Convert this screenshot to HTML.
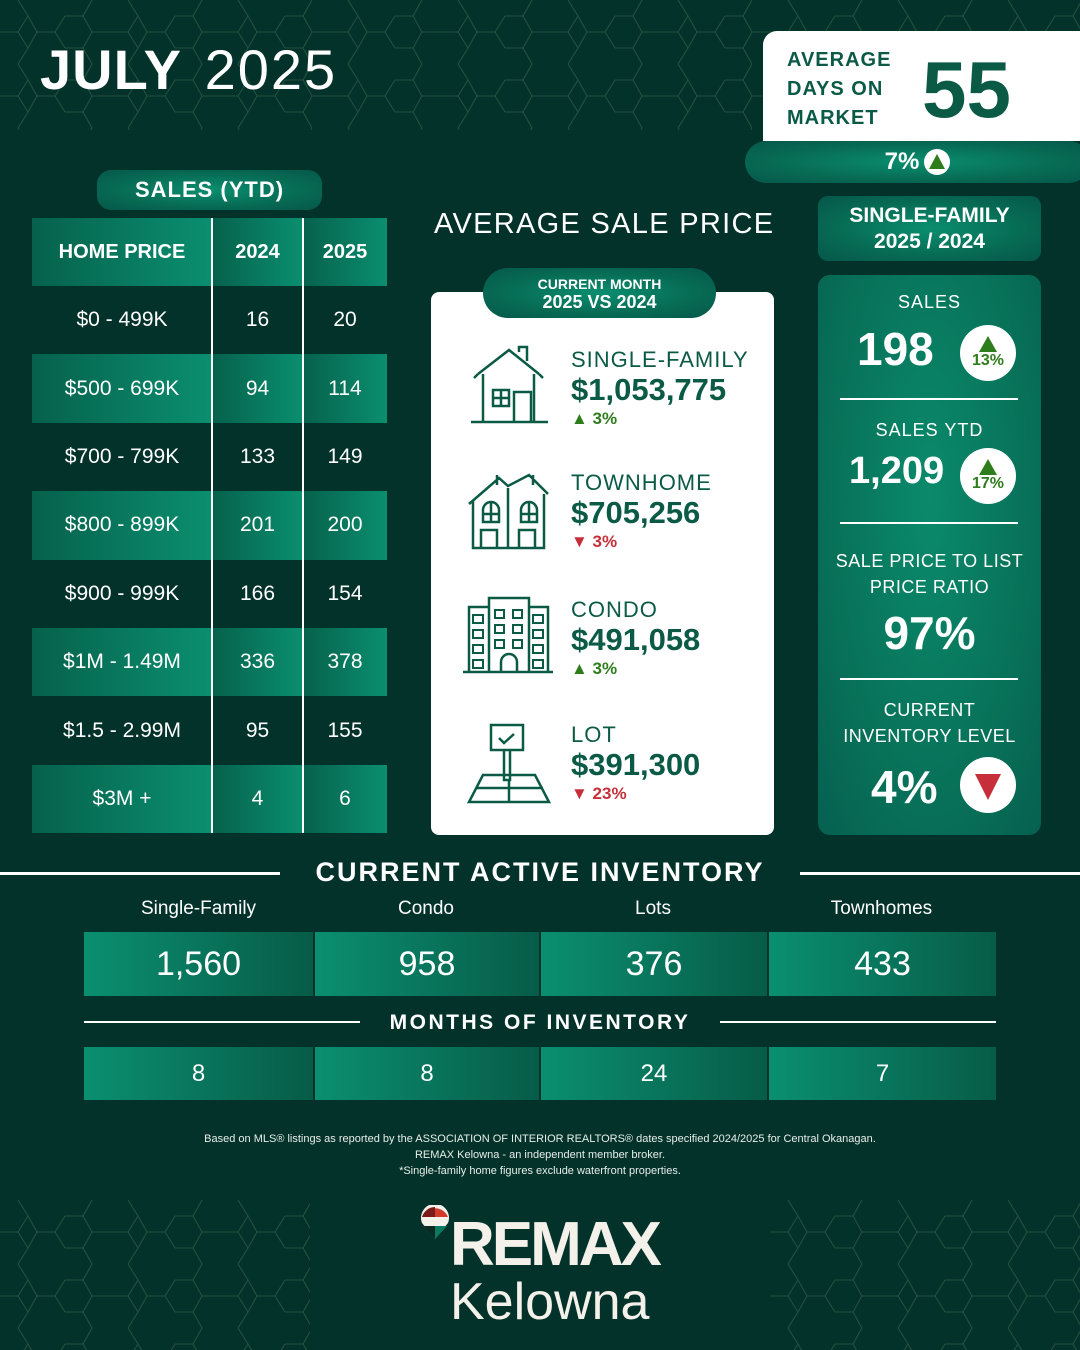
<!DOCTYPE html>
<html><head><meta charset="utf-8">
<style>
*{margin:0;padding:0;box-sizing:border-box}
body{width:1080px;height:1350px;background:#03322a;position:relative;overflow:hidden;font-family:"Liberation Sans",Arial,sans-serif;color:#fff}
.a{position:absolute}
.c{position:absolute;display:flex;align-items:center;justify-content:center;text-align:center}
.b{font-weight:bold}
.tg{background:linear-gradient(90deg,#06614c,#0a8f6f)}
.tg2{background:linear-gradient(90deg,#0a8f70,#075c48)}
.pill{background:radial-gradient(ellipse at center,#0a8e6f 0%,#076a53 60%,#06574a 100%)}
.dk{color:#0b5a46}
.up{color:#2e7d1c}
.dn{color:#c62f3a}
</style></head><body>
<svg class="a" style="left:0;top:0" width="1080" height="130">
<defs><pattern id="hx" width="110" height="64" patternUnits="userSpaceOnUse">
<path d="M0 32 L18 32 L28 16 M18 32 L28 48 M28 16 L18 0 M28 48 L18 64 M37 32 L55 32 L65 16 M55 32 L65 48 M37 32 L28 16 M37 32 L28 48 M65 16 L83 16 M65 48 L83 48 M83 16 L92 0 M83 16 L92 32 M83 48 L92 64 M83 48 L92 32 M92 32 L110 32" stroke="#24503f" stroke-width="1.1" fill="none"/>
</pattern></defs>
<rect width="1080" height="130" fill="url(#hx)"/>
</svg>
<svg class="a" style="left:0;top:1200" width="310" height="150"><rect width="310" height="150" fill="url(#hx)"/></svg>
<svg class="a" style="left:770;top:1200" width="310" height="150"><rect width="310" height="150" fill="url(#hx)"/></svg>

<div class="a" style="left:40px;top:40px;font-size:56px;line-height:60px;letter-spacing:1px"><b>JULY</b>&nbsp;<span style="font-weight:normal;letter-spacing:2px;margin-left:6px">2025</span></div>

<div class="a" style="left:763px;top:31px;width:317px;height:110px;background:#fff;border-radius:14px 0 0 0"></div>
<div class="a b dk" style="left:787px;top:46px;font-size:20px;line-height:29px;letter-spacing:1px;color:#0b5a46">AVERAGE<br>DAYS ON<br>MARKET</div>
<div class="a b" style="left:922px;top:50px;font-size:80px;line-height:80px;color:#0b5a46">55</div>
<div class="c pill b" style="left:745px;top:141px;width:345px;height:42px;border-radius:21px;font-size:24px">7%<span style="display:inline-block;width:26px;height:26px;border-radius:50%;background:#fff;margin-left:5px;position:relative"><span class="a" style="left:5px;top:5px;border-left:8px solid transparent;border-right:8px solid transparent;border-bottom:15px solid #2e7d1c"></span></span></div>

<div class="c pill b" style="left:97px;top:170px;width:225px;height:40px;border-radius:14px;font-size:22px;letter-spacing:1px">SALES (YTD)</div>
<div class="c tg b" style="left:32px;top:218px;width:180px;height:68px;font-size:20px">HOME PRICE</div>
<div class="c tg b" style="left:212px;top:218px;width:91px;height:68px;font-size:20px">2024</div>
<div class="c tg b" style="left:303px;top:218px;width:84px;height:68px;font-size:20px">2025</div>
<div id="rows"></div>
<div class="a" style="left:211px;top:218px;width:2px;height:615px;background:#fff"></div>
<div class="a" style="left:302px;top:218px;width:2px;height:615px;background:#fff"></div>

<div class="a" style="left:434px;top:208px;font-size:29px;letter-spacing:1.3px">AVERAGE SALE PRICE</div>
<div class="a" style="left:431px;top:292px;width:343px;height:543px;background:#fff;border-radius:8px"></div>
<div class="c pill b" style="left:483px;top:268px;width:233px;height:50px;border-radius:25px;font-size:15px;line-height:18px;flex-direction:column"><span style="font-size:14px">CURRENT MONTH</span><span style="font-size:18px">2025 VS 2024</span></div>

<svg class="a" style="left:431px;top:330px" width="140" height="480" fill="none" stroke="#0b5a46" stroke-width="2.5">
<path d="M47 44 L78 20 L108 44 M52 44 V92 M103 44 V92 M40 92 H117 M62 60 h16 v16 h-16 z M70 60 v16 M62 68 h16 M83 62 h17 v30 h-17 z M88 22 v-5 h8 v14"/>
<path d="M47 44 L43 48 M108 44 L112 48"/>
<path d="M38 174 L68 148 L77 156 L98 145 L117 164 M42 170 V218 H113 V164 M77 158 V218 M50 218 V200 h16 V218 M88 218 V200 h16 V218 M52 192 v-12 a8 8 0 0 1 16 0 v12 z M90 192 v-12 a8 8 0 0 1 16 0 v12 z M60 172 v20 M98 172 v20 M52 184 h16 M90 184 h16 M66 145 v10 M102 145 v10"/>
<path d="M32 342 H122 M38 342 V277 H58 M58 342 V268 H98 V342 M98 277 H117 V342 M70 342 v-10 a8 8 0 0 1 16 0 v10"/>
<path d="M42 285 h10 v8 h-10 z M42 300 h10 v8 h-10 z M42 315 h10 v8 h-10 z M42 330 h10 v8 h-10 z M102 285 h10 v8 h-10 z M102 300 h10 v8 h-10 z M102 315 h10 v8 h-10 z M102 330 h10 v8 h-10 z M64 280 h9 v8 h-9 z M82 280 h9 v8 h-9 z M64 295 h9 v8 h-9 z M82 295 h9 v8 h-9 z M64 310 h9 v8 h-9 z M82 310 h9 v8 h-9 z" stroke-width="2"/>
<path d="M60 395 h32 v25 h-32 z M68 408 l5 5 l10 -9 M73 420 v30 h6 v-30 M52 445 L38 472 H118 L104 445 Z M45 458 H112 M78 450 V472"/>
</svg>

<div class="a dk" style="left:571px;top:347px;font-size:22px;letter-spacing:1px">SINGLE-FAMILY</div>
<div class="a b dk" style="left:571px;top:372px;font-size:31px">$1,053,775</div>
<div class="a b up" style="left:571px;top:409px;font-size:17px">▲ 3%</div>
<div class="a dk" style="left:571px;top:470px;font-size:22px;letter-spacing:1px">TOWNHOME</div>
<div class="a b dk" style="left:571px;top:495px;font-size:31px">$705,256</div>
<div class="a b dn" style="left:571px;top:532px;font-size:17px">▼ 3%</div>
<div class="a dk" style="left:571px;top:597px;font-size:22px;letter-spacing:1px">CONDO</div>
<div class="a b dk" style="left:571px;top:622px;font-size:31px">$491,058</div>
<div class="a b up" style="left:571px;top:659px;font-size:17px">▲ 3%</div>
<div class="a dk" style="left:571px;top:722px;font-size:22px;letter-spacing:1px">LOT</div>
<div class="a b dk" style="left:571px;top:747px;font-size:31px">$391,300</div>
<div class="a b dn" style="left:571px;top:784px;font-size:17px">▼ 23%</div>

<div class="c pill b" style="left:818px;top:196px;width:223px;height:65px;border-radius:10px;font-size:21px;line-height:26px;flex-direction:column"><span>SINGLE-FAMILY</span><span>2025 / 2024</span></div>
<div class="a" style="left:818px;top:275px;width:223px;height:560px;border-radius:12px;background:radial-gradient(ellipse at 50% 40%,#0a8a6b 0%,#087259 60%,#066050 100%)"></div>
<div class="c" style="left:818px;top:290px;width:223px;height:24px;font-size:18px;letter-spacing:1px">SALES</div>
<div class="a b" style="left:857px;top:322px;font-size:46px">198</div>
<div class="c" style="left:960px;top:325px;width:56px;height:56px;border-radius:50%;background:#fff;flex-direction:column"><span style="border-left:9px solid transparent;border-right:9px solid transparent;border-bottom:16px solid #2e7d1c"></span><span class="b up" style="font-size:16px">13%</span></div>
<div class="a" style="left:840px;top:398px;width:178px;height:2px;background:#fff"></div>
<div class="c" style="left:818px;top:418px;width:223px;height:24px;font-size:18px;letter-spacing:1px">SALES YTD</div>
<div class="a b" style="left:849px;top:450px;font-size:38px">1,209</div>
<div class="c" style="left:960px;top:448px;width:56px;height:56px;border-radius:50%;background:#fff;flex-direction:column"><span style="border-left:9px solid transparent;border-right:9px solid transparent;border-bottom:16px solid #2e7d1c"></span><span class="b up" style="font-size:16px">17%</span></div>
<div class="a" style="left:840px;top:522px;width:178px;height:2px;background:#fff"></div>
<div class="c" style="left:818px;top:548px;width:223px;height:52px;font-size:18px;line-height:26px;letter-spacing:.5px">SALE PRICE TO LIST<br>PRICE RATIO</div>
<div class="c b" style="left:818px;top:605px;width:223px;height:56px;font-size:46px">97%</div>
<div class="a" style="left:840px;top:678px;width:178px;height:2px;background:#fff"></div>
<div class="c" style="left:818px;top:697px;width:223px;height:52px;font-size:18px;line-height:26px;letter-spacing:.5px">CURRENT<br>INVENTORY LEVEL</div>
<div class="a b" style="left:871px;top:760px;font-size:46px">4%</div>
<div class="c" style="left:960px;top:757px;width:56px;height:56px;border-radius:50%;background:#fff"><span style="border-left:13px solid transparent;border-right:13px solid transparent;border-top:26px solid #c62f3a;margin-top:4px"></span></div>

<div class="a" style="left:0;top:872px;width:280px;height:3px;background:#fff"></div>
<div class="a" style="left:800px;top:872px;width:280px;height:3px;background:#fff"></div>
<div class="c b" style="left:280px;top:855px;width:520px;height:34px;font-size:27px;letter-spacing:2px">CURRENT ACTIVE INVENTORY</div>
<div class="c" style="left:84px;top:897px;width:229px;height:24px;font-size:19px">Single-Family</div>
<div class="c" style="left:313px;top:897px;width:226px;height:24px;font-size:19px">Condo</div>
<div class="c" style="left:539px;top:897px;width:228px;height:24px;font-size:19px">Lots</div>
<div class="c" style="left:767px;top:897px;width:229px;height:24px;font-size:19px">Townhomes</div>
<div class="c tg2" style="left:84px;top:932px;width:229px;height:64px;font-size:34px">1,560</div>
<div class="c tg2" style="left:315px;top:932px;width:224px;height:64px;font-size:34px">958</div>
<div class="c tg2" style="left:541px;top:932px;width:226px;height:64px;font-size:34px">376</div>
<div class="c tg2" style="left:769px;top:932px;width:227px;height:64px;font-size:34px">433</div>
<div class="a" style="left:84px;top:1021px;width:276px;height:2px;background:#fff"></div>
<div class="a" style="left:720px;top:1021px;width:276px;height:2px;background:#fff"></div>
<div class="c b" style="left:360px;top:1010px;width:360px;height:26px;font-size:21px;letter-spacing:2.5px">MONTHS OF INVENTORY</div>
<div class="c tg2" style="left:84px;top:1047px;width:229px;height:53px;font-size:24px">8</div>
<div class="c tg2" style="left:315px;top:1047px;width:224px;height:53px;font-size:24px">8</div>
<div class="c tg2" style="left:541px;top:1047px;width:226px;height:53px;font-size:24px">24</div>
<div class="c tg2" style="left:769px;top:1047px;width:227px;height:53px;font-size:24px">7</div>

<div class="a" style="left:0;top:1131px;width:1080px;text-align:center;font-size:11px;line-height:16px;color:#e8eee9">Based on MLS® listings as reported by the ASSOCIATION OF INTERIOR REALTORS® dates specified 2024/2025 for Central Okanagan.<br>REMAX Kelowna - an independent member broker.<br>*Single-family home figures exclude waterfront properties.</div>

<svg class="a" style="left:419px;top:1205px" width="32" height="36"><path d="M16 34 L3 18 A14 14 0 1 1 29 18 Z" fill="#f4f1ea"/><path d="M3 12 A14 14 0 0 1 29 12 Z" fill="#d33a2c"/><path d="M3 12 A14 14 0 0 1 16 2 V12 Z" fill="#7a1a1a"/><path d="M4 21 H28 L16 34 Z" fill="#0a7a60"/><path d="M4 21 H16 V34 Z" fill="#0b2a22"/></svg>
<div class="a b" style="left:450px;top:1212px;font-size:62px;line-height:66px;color:#f4f1ea;letter-spacing:-3px">REMAX</div>
<div class="a" style="left:450px;top:1274px;font-size:52px;line-height:56px;color:#f4f1ea">Kelowna</div>

<script>
var d=[["$0 - 499K",16,20],["$500 - 699K",94,114],["$700 - 799K",133,149],["$800 - 899K",201,200],["$900 - 999K",166,154],["$1M - 1.49M",336,378],["$1.5 - 2.99M",95,155],["$3M +",4,6]];
var h="";d.forEach(function(r,i){var t=286+i*68.4,cls=i%2?"c tg":"c";
h+='<div class="'+cls+'" style="left:32px;top:'+t+'px;width:180px;height:68.4px;font-size:21px">'+r[0]+'</div>';
h+='<div class="'+cls+'" style="left:212px;top:'+t+'px;width:91px;height:68.4px;font-size:21px">'+r[1]+'</div>';
h+='<div class="'+cls+'" style="left:303px;top:'+t+'px;width:84px;height:68.4px;font-size:21px">'+r[2]+'</div>';});
document.getElementById("rows").innerHTML=h;
</script>
</body></html>
